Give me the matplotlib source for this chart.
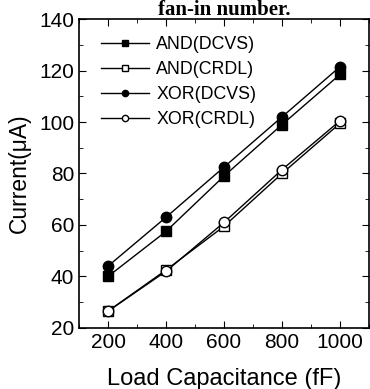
import matplotlib
matplotlib.use("Agg")
import numpy as np
import matplotlib.pyplot as plt
from matplotlib.ticker import MultipleLocator

# values
load_cap = [200, 400, 600, 800, 1000]
and_dcvs = [40, 57.5, 79, 99, 118.5]
and_crdl = [26.5, 42.5, 59.5, 80, 99.5]
xor_dcvs = [44, 63, 82.5, 102, 121.5]
xor_crdl = [26.5, 42, 61, 81.5, 100.5]

plt.rcParams['font.family'] = ['Liberation Sans', 'DejaVu Sans']

fig = plt.figure(figsize=(3.7, 3.89), dpi=100)
ax = fig.add_axes([0.2135, 0.157, 0.784, 0.794])

ax.plot(load_cap, and_dcvs, 'k-', marker='s', ms=6.5, mfc='k', lw=1, label='AND(DCVS)')
ax.plot(load_cap, and_crdl, 'k-', marker='s', ms=6.5, mfc='white', lw=1, label='AND(CRDL)')
ax.plot(load_cap, xor_dcvs, 'k-', marker='o', ms=7.5, mfc='k', lw=1, label='XOR(DCVS)')
ax.plot(load_cap, xor_crdl, 'k-', marker='o', ms=7.5, mfc='white', lw=1, label='XOR(CRDL)')

ax.set_xlim(100, 1100)
ax.set_ylim(20, 140)
ax.xaxis.set_major_locator(MultipleLocator(200))
ax.xaxis.set_minor_locator(MultipleLocator(100))
ax.yaxis.set_major_locator(MultipleLocator(20))
ax.yaxis.set_minor_locator(MultipleLocator(10))
ax.tick_params(which='both', direction='in', top=True, right=True, labelsize=15)
ax.tick_params(which='major', length=5)
ax.tick_params(which='minor', length=3)
for s in ax.spines.values():
    s.set_linewidth(1.2)

ax.set_xlabel('Load Capacitance (fF)', fontsize=17, labelpad=12)
ax.set_ylabel('Current(\u03bcA)', fontsize=16.5, labelpad=6)

ax.legend(loc='upper left', bbox_to_anchor=(0.076, 0.945), frameon=False,
          fontsize=12.8, handlelength=2.7, handletextpad=0.4, labelspacing=0.45,
          borderpad=0, borderaxespad=0, markerscale=0.6)

# title of the original figure at the top edge
fig.text(0.605, 1.0, 'fan-in number.', family='Liberation Serif', weight='bold',
         fontsize=15, ha='center', va='top')

fig.savefig('out.png', dpi=100)
